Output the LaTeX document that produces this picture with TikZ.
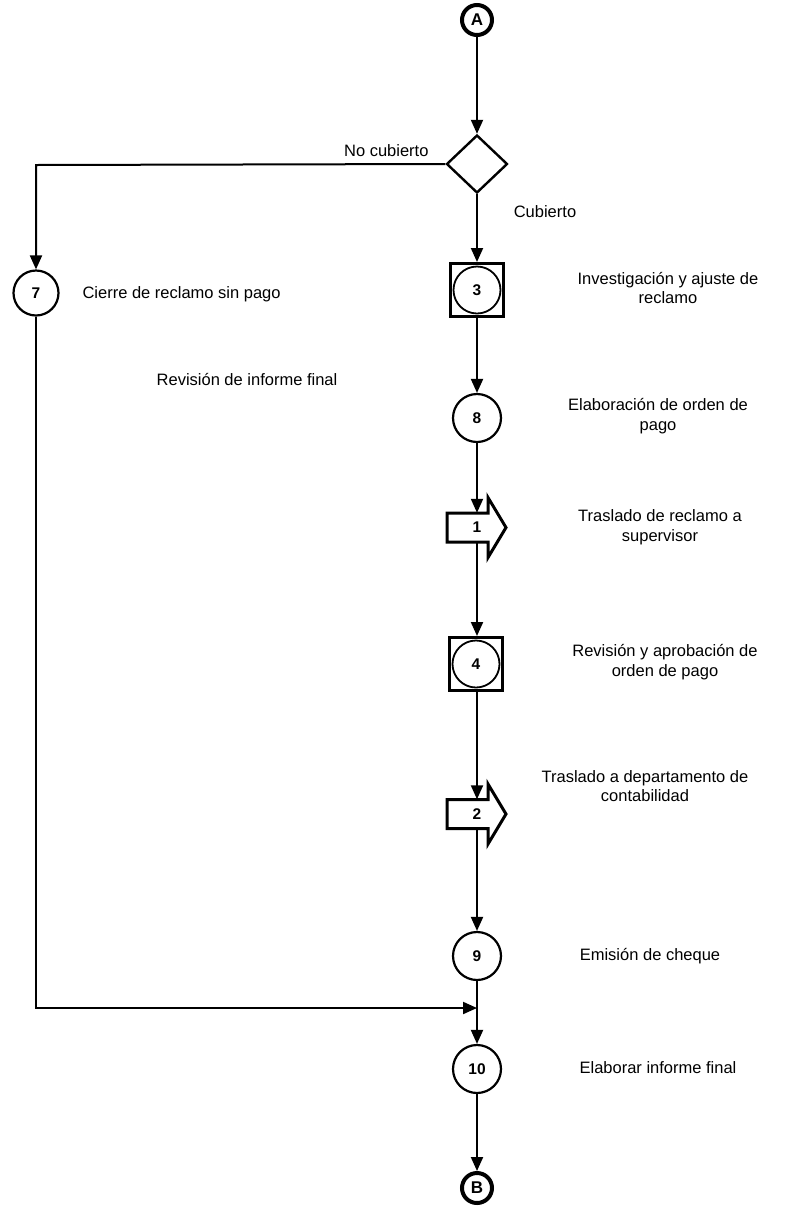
\documentclass[tikz,border=0pt]{standalone}
\usepackage{fontspec}
\setmainfont{Liberation Sans}
\usetikzlibrary{arrows.meta,shapes.geometric,calc}

\tikzset{
  flow/.style={line width=2pt,-{Triangle[length=14pt,width=12pt]}},
  line/.style={line width=2pt},
  numfont/.style={font=\fontsize{15.5}{15.5}\selectfont\bfseries},
  opcircle/.style={circle,draw,line width=2.2pt,minimum size=48pt,inner sep=0pt,numfont},
  connector/.style={circle,draw,line width=4pt,minimum size=30pt,inner sep=0pt,
                    font=\fontsize{17}{17}\selectfont\bfseries},
  decision/.style={diamond,draw,line width=2.4pt,minimum width=61pt,minimum height=58pt,
                   inner sep=0pt},
  inspbox/.style={rectangle,draw,line width=3pt,minimum size=53pt,inner sep=0pt},
  transp/.style={rectangle,minimum width=60pt,minimum height=29pt,inner sep=0pt},
  desc/.style={align=center,font=\fontsize{16.5}{19.5}\selectfont},
  lbl/.style={font=\fontsize{16.5}{19.5}\selectfont},
}

% outline of a transport arrow around a node centred on the flow line
\newcommand{\transportoutline}[1]{%
  \draw[line width=3pt,line join=miter]
    ($(#1.center)+(-30,-14.5)$) -- ($(#1.center)+(11,-14.5)$) --
    ($(#1.center)+(11,-30)$) -- ($(#1.center)+(29,0)$) --
    ($(#1.center)+(11,30)$) -- ($(#1.center)+(11,14.5)$) --
    ($(#1.center)+(-30,14.5)$) -- cycle;}

\begin{document}
\begin{tikzpicture}[x=1pt,y=-1pt]
\useasboundingbox (0,0) rectangle (788,1211);

% shapes along the main column
\node[connector] (A) at (477,20) {A};
\node[decision] (dec) at (477,164) {};
\node[inspbox] (n3) at (477,290) {};
\node[opcircle,line width=1.8pt,minimum size=47pt] at (n3.center) {3};
\node[opcircle] (n8) at (477,418) {8};
\node[transp] (t1) at (477,527.5) {};
\transportoutline{t1}
\node[numfont] at (t1.center) {1};
\node[inspbox] (n4) at (476,664) {};
\node[opcircle,line width=1.8pt,minimum size=47pt] at (n4.center) {4};
\node[transp] (t2) at (477,814) {};
\transportoutline{t2}
\node[numfont] at (t2.center) {2};
\node[opcircle] (n9) at (477,956) {9};
\node[opcircle] (n10) at (477,1069) {10};
\node[connector] (B) at (477,1188) {B};

% side branch
\node[opcircle,minimum size=45pt] (n7) at (36,293) {7};
\coordinate (corner1) at (36,165);
\coordinate (corner2) at (36,1008);
\coordinate (merge) at (477,1008);

% connectors
\draw[flow] (A) -- (dec.north);
\draw[flow] (dec.south) -- (n3.north);
\draw[flow] (n3.south) -- (n8.north);
\draw[flow] (n8.south) -- (t1.north);
\draw[flow] (t1.south) -- (t1.south |- n4.north);
\draw[flow] (n4.south -| t2.north) -- (t2.north);
\draw[flow] (t2.south) -- (n9.north);
\draw[flow] (n9.south) -- (n10.north);
\draw[flow] (n10.south) -- (B.north);
\draw[flow] (dec.west) -- (corner1) -- (n7.north);
\draw[flow] (n7.south) -- (corner2) -- (merge);

% labels
\node[lbl,anchor=south east] at (432,160) {No cubierto};
\node[lbl] at (545,212) {Cubierto};
\node[lbl,anchor=west] at (79,294) {Cierre de reclamo sin pago};
\node[desc] at (668,288) {Investigación y ajuste de\\reclamo};
\node[desc] at (658,416) {Elaboración de orden de\\pago};
\node[desc] at (660,527) {Traslado de reclamo a\\supervisor};
\node[lbl] at (247,379) {Revisión de informe final};
\node[desc] at (665,662) {Revisión y aprobación de\\orden de pago};
\node[desc] at (645,786) {Traslado a departamento de\\contabilidad};
\node[lbl] at (650,956) {Emisión de cheque};
\node[lbl] at (658,1068) {Elaborar informe final};
\end{tikzpicture}
\end{document}
